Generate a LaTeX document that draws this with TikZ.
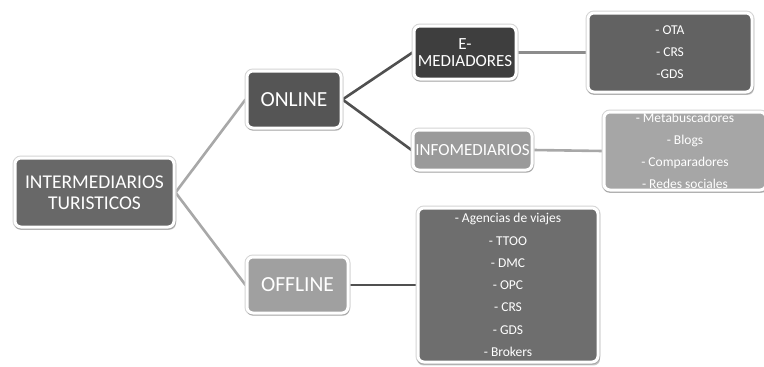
\documentclass[tikz,border=0pt]{standalone}
\usepackage{fontspec}
\setmainfont{Carlito}
\usetikzlibrary{shadows,backgrounds}
\definecolor{cRoot}{HTML}{686868}
\definecolor{cOnline}{HTML}{555555}
\definecolor{cOffline}{HTML}{A0A0A0}
\definecolor{cEmed}{HTML}{3E3E3E}
\definecolor{cInfo}{HTML}{9A9A9A}
\definecolor{cOta}{HTML}{626262}
\definecolor{cMeta}{HTML}{A6A6A6}
\definecolor{cOffl}{HTML}{6E6E6E}
\definecolor{cLineLight}{HTML}{A8A8A8}
\definecolor{cLineDark}{HTML}{505050}
\definecolor{cLineMid}{HTML}{8C8C8C}
\definecolor{cRim}{HTML}{D4D4D4}
\tikzset{
  box/.style={draw=white, line width=3pt, rounded corners=6pt, text=white,
    align=center, inner sep=0pt,
    preaction={draw=cRim, line width=5pt},
    drop shadow={shadow xshift=0.6pt, shadow yshift=-2.2pt, opacity=0.22, fill=black, shadow scale=1.015}},
  conn/.style={line width=2.6pt},
}
\begin{document}
\begin{tikzpicture}[x=1pt,y=-1pt]
\useasboundingbox (0,0) rectangle (764,367);
\node[box, fill=cRoot, minimum width=159pt, minimum height=69pt,
  font=\fontsize{19.5}{21.5}\selectfont] (root) at (94.5,192.5) {INTERMEDIARIOS\\TURISTICOS};
\node[box, fill=cOnline, minimum width=94pt, minimum height=57pt,
  font=\fontsize{21.5}{24}\selectfont] (online) at (294,99.5) {ONLINE};
\node[box, fill=cOffline, minimum width=101pt, minimum height=56pt,
  font=\fontsize{21.5}{24}\selectfont] (offline) at (297.5,285) {OFFLINE};
\node[box, fill=cEmed, minimum width=102pt, minimum height=53pt,
  font=\fontsize{17}{16.5}\selectfont] (emed) at (465,52.5) {E-\\MEDIADORES};
\node[box, fill=cInfo, minimum width=119pt, minimum height=40pt,
  font=\fontsize{17}{19}\selectfont] (info) at (472.5,150) {INFOMEDIARIOS};
\node[box, fill=cOta, minimum width=164pt, minimum height=79pt,
  font=\fontsize{13.5}{22}\selectfont] (ota) at (670,52.5) {- OTA\\- CRS\\-GDS};
\node[box, fill=cMeta, minimum width=162pt, minimum height=78pt,
  font=\fontsize{13.5}{22}\selectfont] (meta) at (685,151) {- Metabuscadores\\- Blogs\\- Comparadores\\- Redes sociales};
\node[box, fill=cOffl, minimum width=180pt, minimum height=154pt,
  font=\fontsize{13.5}{22.3}\selectfont] (offl) at (508,285) {- Agencias de viajes\\- TTOO\\- DMC\\- OPC\\- CRS\\- GDS\\- Brokers};
\begin{pgfonlayer}{background}
\fill[white] (0,0) rectangle (764,367);
\draw[conn, cLineLight] (root.east) -- (online.west);
\draw[conn, cLineLight] (root.east) -- (offline.west);
\draw[conn, cLineDark] (online.east) -- (emed.west);
\draw[conn, cLineDark] (online.east) -- (info.west);
\draw[conn, cLineMid] (emed.east) -- (ota.west);
\draw[conn, cLineLight] (info.east) -- (meta.west);
\draw[conn, cLineDark] (offline.east) -- (offl.west);
\end{pgfonlayer}
\end{tikzpicture}
\end{document}
